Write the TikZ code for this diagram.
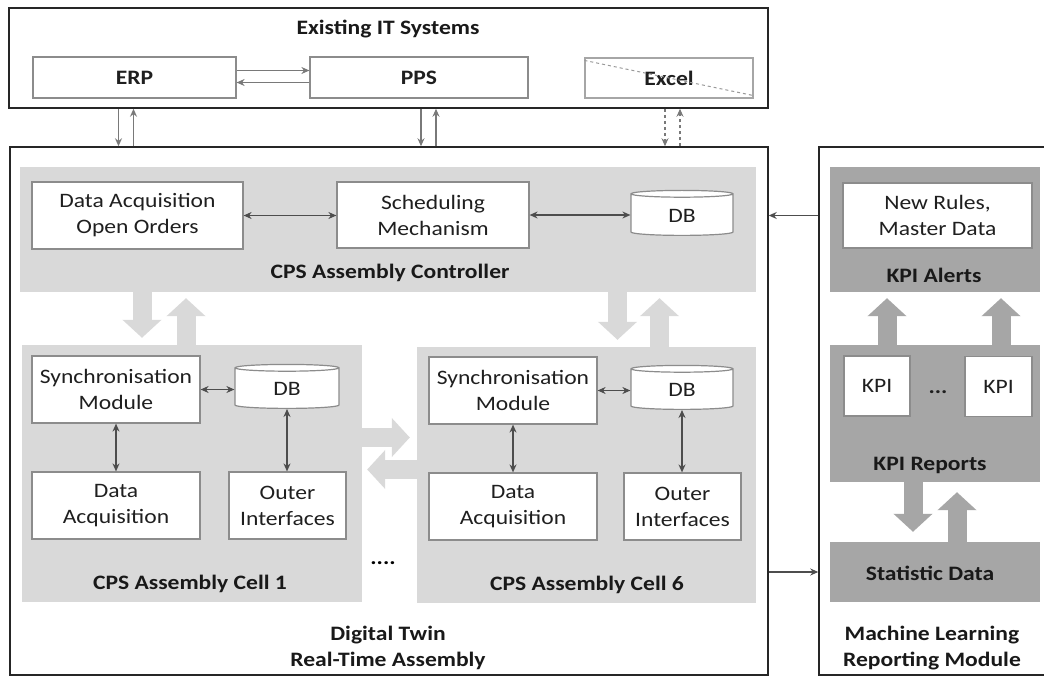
\documentclass[tikz,border=0pt]{standalone}
\usepackage{fontspec}
\setmainfont{Carlito}[FakeStretch=1.15]
\usetikzlibrary{shapes,arrows.meta,positioning,calc}
\definecolor{cellgray}{HTML}{D9D9D9}
\definecolor{kpigray}{HTML}{A6A6A6}
\definecolor{boxline}{HTML}{8C8C8C}
\definecolor{arrowgray}{HTML}{4D4D4D}
\definecolor{txtgray}{HTML}{1F1F1F}
\tikzset{
	frame/.style={draw=black!85, line width=1.5pt, fill=white},
	region/.style={fill=cellgray, draw=none},
	kpiregion/.style={fill=kpigray, draw=none},
	box/.style={draw=boxline, line width=1.2pt, fill=white, align=center, text=txtgray, font=\fontsize{20.5}{26}\selectfont},
	dbase/.style={cylinder, shape border rotate=90, aspect=0.2, draw=boxline, line width=1.2pt, fill=white, text=txtgray, font=\fontsize{20.5}{26}\selectfont},
	grouplabel/.style={font=\fontsize{20.5}{26}\selectfont\bfseries, text=black!90, align=center},
	biedge/.style={<->,>={Stealth[width=7pt,length=8pt]}, draw=arrowgray, line width=1.4pt},
	diredge/.style={->,>={Stealth[width=7pt,length=8pt]}, draw=arrowgray!75, line width=1.3pt},
	fatarrow/.style={-{Triangle[width=38pt,length=18pt]}, line width=19pt, draw=cellgray},
	fatkpi/.style={-{Triangle[width=38pt,length=18pt]}, line width=19pt, draw=kpigray}
}

\begin{document}
\begin{tikzpicture}[x=1pt, y=-1pt]
	\useasboundingbox (0,0) rectangle (1044,677);

	% existing systems
	\node[frame, minimum width=759, minimum height=100] (IT) at (388.5,58) {};
	\node[grouplabel] at (388,29) {Existing IT Systems};
	\node[box, font=\fontsize{20.5}{26}\selectfont\bfseries, minimum width=203, minimum height=41] (ERP) at (134.5,77.5) {ERP};
	\node[box, font=\fontsize{20.5}{26}\selectfont\bfseries, minimum width=218, minimum height=41] (PPS) at (419,77.5) {PPS};
	\node[box, draw=black!35, font=\fontsize{20.5}{26}\selectfont\bfseries, minimum width=168, minimum height=40] (Excel) at (669,78) {Excel};
	\draw[black!40, dashed, line width=1pt] ([yshift=-3]Excel.north west) -- ([yshift=3]Excel.south east);
	\draw[diredge] ([yshift=7]ERP.east) -- ([yshift=7]PPS.west);
	\draw[diredge] ([yshift=-5]PPS.west) -- ([yshift=-5]ERP.east);

	% frames
	\node[frame, minimum width=758, minimum height=528] (DT) at (389,411) {};
	\node[frame, minimum width=231, minimum height=528] (ML) at (934.5,411) {};

	\draw[diredge] ([xshift=-16]ERP.south |- IT.south) -- ([xshift=-16]ERP.south |- DT.north);
	\draw[diredge] ([xshift=-1]ERP.south |- DT.north) -- ([xshift=-1]ERP.south |- IT.south);
	\draw[diredge] ([xshift=2]PPS.south |- IT.south) -- ([xshift=2]PPS.south |- DT.north);
	\draw[diredge] ([xshift=17]PPS.south |- DT.north) -- ([xshift=17]PPS.south |- IT.south);
	\draw[diredge, dashed] ([xshift=-4]Excel.south |- IT.south) -- ([xshift=-4]Excel.south |- DT.north);
	\draw[diredge, dashed] ([xshift=11]Excel.south |- DT.north) -- ([xshift=11]Excel.south |- IT.south);

	% digital twin
	\node[region, minimum width=736, minimum height=125] (Ctrl) at (388,229.5) {};
	\node[region, minimum width=340, minimum height=257] (Cell1) at (192,473.5) {};
	\node[region, minimum width=339, minimum height=256] (Cell6) at (586.5,475) {};

	\draw[fatarrow, shorten >=7pt] ([xshift=-50]Cell1.north |- Ctrl.south) -- ([xshift=-50]Cell1.north);
	\draw[fatarrow, shorten >=6pt] ([xshift=-6]Cell1.north) -- ([xshift=-6]Cell1.north |- Ctrl.south);
	\draw[fatarrow, shorten >=7pt] ([xshift=31]Cell6.north |- Ctrl.south) -- ([xshift=31]Cell6.north);
	\draw[fatarrow, shorten >=6pt] ([xshift=73]Cell6.north) -- ([xshift=73]Cell6.north |- Ctrl.south);
	\draw[fatarrow, shorten >=7pt] ([yshift=36]Cell1.east) -- ([yshift=36]Cell1.east -| Cell6.west);
	\draw[fatarrow, shorten >=5pt] ([yshift=4]Cell1.east -| Cell6.west) -- ([yshift=4]Cell1.east);

	\node[box, minimum width=211, minimum height=67] (DAO) at (137.5,215.5) {Data Acquisition\\Open Orders};
	\node[box, minimum width=192, minimum height=66] (SM) at (433,215) {Scheduling\\Mechanism};
	\node[dbase, minimum width=102, minimum height=45] (DBc) at (682,215.5) {DB};
	\node[grouplabel] at (390,273) {CPS Assembly Controller};
	\draw[biedge] (DAO.east) -- (DAO.east -| SM.west);
	\draw[biedge] (SM.east) -- (SM.east -| DBc.west);

	\node[box, minimum width=168, minimum height=67] (Sync1) at (116,389.5) {Synchronisation\\Module};
	\node[dbase, minimum width=104, minimum height=44] (DB1) at (287,389) {DB};
	\node[box, minimum width=168, minimum height=67] (DA1) at (116,505.5) {Data\\Acquisition};
	\node[box, minimum width=117, minimum height=67] (OI1) at (287.5,505.5) {Outer\\Interfaces};
	\node[grouplabel] at (190,584) {CPS Assembly Cell 1};
	\draw[biedge] (Sync1.east) -- (Sync1.east -| DB1.west);
	\draw[biedge] (Sync1.south) -- (DA1.north);
	\draw[biedge] (DB1.south) -- (DB1.south |- OI1.north);

	\node[box, minimum width=168, minimum height=67] (Sync6) at (513,390.5) {Synchronisation\\Module};
	\node[dbase, minimum width=102, minimum height=44] (DB6) at (682,390) {DB};
	\node[box, minimum width=168, minimum height=67] (DA6) at (513,506.5) {Data\\Acquisition};
	\node[box, minimum width=117, minimum height=67] (OI6) at (682.5,506.5) {Outer\\Interfaces};
	\node[grouplabel] at (587,585) {CPS Assembly Cell 6};
	\draw[biedge] (Sync6.east) -- (Sync6.east -| DB6.west);
	\draw[biedge] (Sync6.south) -- (DA6.north);
	\draw[biedge] (DB6.south) -- (DB6.south |- OI6.north);

	\node[font=\fontsize{20.5}{26}\selectfont\bfseries] (dots) at (383,563) {....};
	\node[grouplabel] at (388,648) {Digital Twin\\Real-Time Assembly};

	% reporting module
	\node[kpiregion, minimum width=210, minimum height=125] (Alerts) at (935,229.5) {};
	\node[kpiregion, minimum width=210, minimum height=137] (Reports) at (935,413.5) {};
	\node[kpiregion, minimum width=210, minimum height=60] (Stat) at (935,572) {};

	\draw[fatkpi, shorten >=6pt] ([xshift=-48]Reports.north) -- ([xshift=-48]Reports.north |- Alerts.south);
	\draw[fatkpi, shorten >=6pt] ([xshift=66]Reports.north) -- ([xshift=66]Reports.north |- Alerts.south);
	\draw[fatkpi, shorten >=10pt] ([xshift=-22]Reports.south) -- ([xshift=-22]Stat.north);
	\draw[fatkpi, shorten >=10pt] ([xshift=22]Stat.north) -- ([xshift=22]Reports.south);

	\node[box, minimum width=189, minimum height=65] (NRMD) at (937.5,215.5) {New Rules,\\Master Data};
	\node[grouplabel] at (934,275) {KPI Alerts};
	\node[box, minimum width=66, minimum height=60] (KPI1) at (877,386) {KPI};
	\node[box, minimum width=67, minimum height=60] (KPI2) at (998.5,386.5) {KPI};
	\node[font=\fontsize{20.5}{26}\selectfont\bfseries, text=txtgray] (kdots) at (938,392) {...};
	\node[grouplabel] at (930,465) {KPI Reports};
	\node[grouplabel] at (930,573) {Statistic Data};
	\node[grouplabel] at (932,648) {Machine Learning\\Reporting Module};

	\draw[diredge, draw=arrowgray] (ML.west |- NRMD) -- (DT.east |- NRMD);
	\draw[diredge, draw=arrowgray] (DT.east |- Stat) -- (ML.west |- Stat);
\end{tikzpicture}
\end{document}
